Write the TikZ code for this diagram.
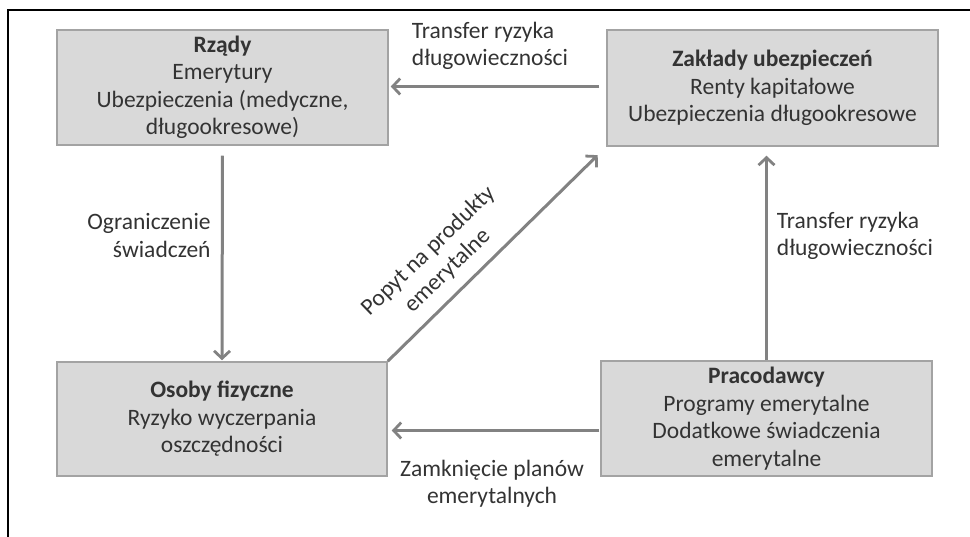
\documentclass[tikz,border=0pt]{standalone}
\usepackage{fontspec}
\setmainfont{Carlito}
\usetikzlibrary{arrows.meta,calc}
\definecolor{boxfill}{HTML}{D9D9D9}
\definecolor{boxline}{HTML}{A3A3A3}
\definecolor{arrcol}{HTML}{828282}
\definecolor{txt}{HTML}{333333}
\begin{document}
\begin{tikzpicture}[x=1pt,y=-1pt,
  box/.style={draw=boxline,fill=boxfill,line width=1.5pt,inner sep=0pt,
    minimum width=331pt,minimum height=115pt,align=center,text=txt,
    font=\fontsize{23.5}{27.5}\selectfont},
  lbl/.style={text=txt,inner sep=0pt,font=\fontsize{23.5}{27.5}\selectfont},
  arr/.style={draw=arrcol,line width=3pt,
    -{Straight Barb[length=7.5pt,width=16pt,line width=2.8pt]}}]
\useasboundingbox (0,0) rectangle (970,537);
\draw[black,line width=2pt] (8,537) -- (8,10) -- (970,10);
\node[box] (rz) at (222.5,87.5) {\textbf{Rządy}\\Emerytury\\Ubezpieczenia (medyczne,\\długookresowe)};
\node[box,minimum height=116pt] (za) at (772.5,88) {\textbf{Zakłady ubezpieczeń}\\Renty kapitałowe\\Ubezpieczenia długookresowe};
\node[box,minimum width=330pt,minimum height=114pt] (os) at (222,419) {\textbf{Osoby fizyczne}\\Ryzyko wyczerpania\\oszczędności};
\node[box] (pr) at (766.5,418.5) {\textbf{Pracodawcy}\\Programy emerytalne\\Dodatkowe świadczenia\\emerytalne};
% connectors
\draw[arr,shorten <=7pt,shorten >=2pt] ([yshift=1.5pt]za.west) -- ([yshift=1.5pt]za.west -| rz.east);
\draw[arr,shorten <=10pt,shorten >=1pt] (rz.south) -- (os.north);
\draw[arr,shorten >=9pt] (pr.north) -- (pr.north |- za.south);
\draw[arr,shorten <=1pt,shorten >=4pt] ([yshift=-12pt]pr.west) -- ([yshift=-12pt]pr.west -| os.east);
\draw[arr,shorten >=12pt] (os.north east) -- (za.south west);
% labels
\node[lbl,align=left] (l1) at (490,46) {Transfer ryzyka\\długowieczności};
\node[lbl,align=right] (l2) at (149,235.5) {Ograniczenie\\świadczeń};
\node[lbl,align=left] (l3) at (855,236) {Transfer ryzyka\\długowieczności};
\node[lbl,align=center] (l4) at (492,483.5) {Zamknięcie planów\\emerytalnych};
\node[lbl,align=center,rotate=44] (l5) at (438,261) {Popyt na produkty\\emerytalne};
\end{tikzpicture}
\end{document}
